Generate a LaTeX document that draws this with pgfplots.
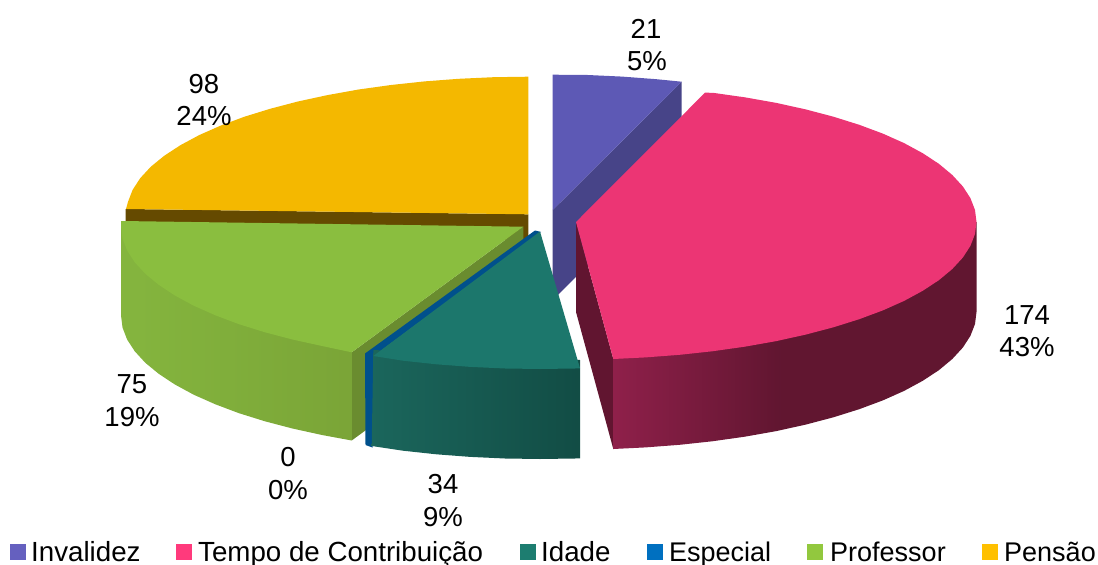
\documentclass[border=0pt]{standalone}
\usepackage{fontspec}
\setmainfont{Liberation Sans}
\usepackage{pgfplots}
\pgfplotsset{compat=1.18}
\tikzset{lab/.style={anchor=base,font=\fontsize{27.5bp}{30bp}\selectfont,text=black,inner sep=0pt},
  leg/.style={anchor=base west,font=\fontsize{27bp}{30bp}\selectfont,text=black,inner sep=0pt},
  legw/.style={anchor=base west,font=\fontsize{27.7bp}{30bp}\selectfont,text=black,inner sep=0pt}}
\pgfdeclarehorizontalshading{pinkside}{100bp}{rgb(0bp)=(0.56,0.125,0.29); rgb(25bp)=(0.56,0.125,0.29); rgb(48bp)=(0.38,0.085,0.19); rgb(100bp)=(0.38,0.085,0.19)}
\pgfdeclarehorizontalshading{greenside}{100bp}{rgb(0bp)=(0.52,0.71,0.245); rgb(25bp)=(0.52,0.71,0.245); rgb(50bp)=(0.50,0.68,0.23); rgb(75bp)=(0.48,0.645,0.215); rgb(100bp)=(0.48,0.645,0.215)}
\pgfdeclarehorizontalshading{tealside}{100bp}{rgb(0bp)=(0.105,0.40,0.36); rgb(25bp)=(0.105,0.40,0.36); rgb(75bp)=(0.07,0.30,0.27); rgb(100bp)=(0.07,0.30,0.27)}
\definecolor{yelt}{HTML}{F4B800}
\definecolor{yelw}{HTML}{654A00}
\definecolor{invt}{HTML}{5D59B5}
\definecolor{invw}{HTML}{474488}
\definecolor{grnt}{HTML}{8ABE3F}
\definecolor{grnw}{HTML}{6A8C2F}
\definecolor{blu}{HTML}{00508C}
\definecolor{tealt}{HTML}{1C776C}
\definecolor{pnkt}{HTML}{EC3574}
\definecolor{pnkw}{HTML}{611530}
\definecolor{lg1}{HTML}{6560BF}
\definecolor{lg2}{HTML}{FF3A7C}
\definecolor{lg3}{HTML}{1D7D70}
\definecolor{lg4}{HTML}{0070C0}
\definecolor{lg5}{HTML}{92C83E}
\definecolor{lg6}{HTML}{FFC000}
\begin{document}
\begin{tikzpicture}
\path[use as bounding box] (0,0) rectangle (1098bp,565bp);
\begin{axis}[at={(0,0)},anchor=south west,scale only axis,width=1098bp,height=565bp,
  xmin=0,xmax=1098,ymin=0,ymax=565,y dir=reverse,axis lines=none,clip=false,
  every axis plot/.append style={draw=none,mark=none,forget plot}]
% Pensao
\addplot[fill=yelw] coordinates {(125.7,209)(528.3,214.3)(528.3,240)(125.7,240)} --cycle;
\addplot[fill=yelt] coordinates {(528.3,76.7)(493.5,77.2)(458.7,78.8)(424.5,81.4)(391,85)(358.6,89.5)(327.5,95.1)(297.9,101.5)(270.1,108.8)(244.2,116.8)(220.6,125.6)(199.2,135.1)(180.4,145.2)(164.2,155.8)(150.7,166.8)(140.2,178.2)(132.6,189.9)(128,201.8)(126,209)(528.3,214.3)} --cycle;
% Invalidez
\addplot[fill=invw] coordinates {(681.7,81.7)(681.7,172)(552.7,300)(552.7,210)} --cycle;
\addplot[fill=invt] coordinates {(552.7,74.7)(587.6,75)(622.2,76.6)(656.4,79.2)(681.7,81.7)(552.7,210)} --cycle;
% Professor
\addplot[fill=grnw] coordinates {(351.7,352.3)(523.3,226.7)(523.3,315)(351.7,440.5)} --cycle;
\addplot[shading=greenside] coordinates {(121,221)(121,315.5)(122.5,327.5)(127.1,339.5)(134.7,351.2)(145.2,362.7)(158.7,373.8)(174.9,384.5)(193.7,394.7)(215.1,404.2)(238.7,413.1)(264.6,421.2)(292.4,428.5)(322,435)(351.7,440.5)(351.7,345)} --cycle;
\addplot[fill=grnt] coordinates {(523.3,226.7)(351.7,352.3)(322,346)(292.4,339.5)(264.6,332.2)(238.7,324.1)(215.1,315.2)(193.7,305.7)(174.9,295.5)(158.7,284.8)(145.2,273.7)(134.7,262.2)(127.1,250.5)(122.5,238.5)(121,226.5)(121,221)} --cycle;
% Especial
\addplot[fill=blu] coordinates {(535,230.5)(541,232)(373.5,356)(372.5,447.5)(365.5,445)(365,353.5)} --cycle;
% Idade
\addplot[shading=tealside] coordinates {(580,360)(580,458.3)(574.9,458.5)(540,459)(505.1,458.5)(470.5,456.9)(436.3,454.3)(403,450.7)(371.7,446)(373.3,350)} --cycle;
\addplot[fill=tealt] coordinates {(540,231.5)(580,368.3)(574.9,368.5)(540,369)(505.1,368.5)(470.5,366.9)(436.3,364.3)(403,360.7)(373.3,356)} --cycle;
% Tempo de Contribuicao
\addplot[fill=pnkw] coordinates {(576,222)(613.3,359)(613.3,449)(576,312)} --cycle;
\addplot[shading=pinkside] coordinates {(976.5,222)(976.5,312)(975,324)(970.4,335.9)(962.8,347.6)(952.3,359)(939,370.1)(922.8,380.75)(904.1,390.9)(882.8,400.4)(859.2,409.2)(833.4,417.3)(805.7,424.6)(776.3,431.1)(745.3,436.6)(713,441.2)(679.7,444.8)(645.5,447.4)(613.3,449)(613.3,350)} --cycle;
\addplot[fill=pnkt] coordinates {(576,222)(705,92.7)(713,92.8)(745.3,97.4)(776.3,102.9)(805.7,109.4)(833.4,116.7)(859.2,124.8)(882.8,133.6)(904.1,143.1)(922.8,153.25)(939,163.9)(952.3,175)(962.8,186.4)(970.4,198.1)(975,210)(976.5,222)(975,234)(970.4,245.9)(962.8,257.6)(952.3,269)(939,280.1)(922.8,290.75)(904.1,300.9)(882.8,310.4)(859.2,319.2)(833.4,327.3)(805.7,334.6)(776.3,341.1)(745.3,346.6)(713,351.2)(679.7,354.8)(645.5,357.4)(613.3,359)} --cycle;
% data labels
\node[lab] at (axis cs:646,39) {21};
\node[lab] at (axis cs:647,71) {5\%};
\node[lab] at (axis cs:1027,324) {174};
\node[lab] at (axis cs:1027,356) {43\%};
\node[lab] at (axis cs:443,493) {34};
\node[lab] at (axis cs:443,526) {9\%};
\node[lab] at (axis cs:288,466) {0};
\node[lab] at (axis cs:288,499) {0\%};
\node[lab] at (axis cs:132,393) {75};
\node[lab] at (axis cs:132,426) {19\%};
\node[lab] at (axis cs:204,93) {98};
\node[lab] at (axis cs:204,125) {24\%};
% legend
\addplot[only marks,mark=square*,mark size=7.5bp,mark options={draw=lg1,line width=0pt,fill=lg1}] coordinates {(17.5,551.5)};
\addplot[only marks,mark=square*,mark size=7.5bp,mark options={draw=lg2,line width=0pt,fill=lg2}] coordinates {(183.5,551.5)};
\addplot[only marks,mark=square*,mark size=7.5bp,mark options={draw=lg3,line width=0pt,fill=lg3}] coordinates {(528,551.5)};
\addplot[only marks,mark=square*,mark size=7.5bp,mark options={draw=lg4,line width=0pt,fill=lg4}] coordinates {(654.5,551.5)};
\addplot[only marks,mark=square*,mark size=7.5bp,mark options={draw=lg5,line width=0pt,fill=lg5}] coordinates {(814.5,551.5)};
\addplot[only marks,mark=square*,mark size=7.5bp,mark options={draw=lg6,line width=0pt,fill=lg6}] coordinates {(990,551.5)};
\node[legw] at (axis cs:31,561) {Invalidez};
\node[legw] at (axis cs:198,561) {Tempo de Contribuição};
\node[legw] at (axis cs:541,561) {Idade};
\node[leg] at (axis cs:669,561) {Especial};
\node[leg] at (axis cs:830,561) {Professor};
\node[leg] at (axis cs:1004,561) {Pensão};
\end{axis}
\end{tikzpicture}
\end{document}
